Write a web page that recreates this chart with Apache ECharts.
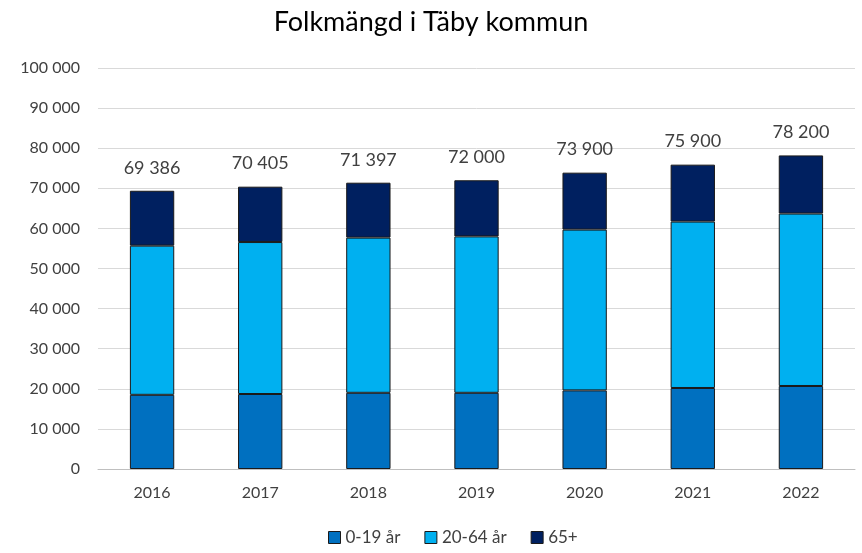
<!DOCTYPE html>
<html>
<head>
<meta charset="utf-8">
<script src="https://cdn.jsdelivr.net/npm/echarts@6/dist/echarts.min.js"></script>
<style>
    html, body { margin: 0; padding: 0; background: #fff; }
    #chart { width: 862px; height: 553px; }
</style>
</head>
<body>
<div id="chart"></div>
<script>
const years = ['2016', '2017', '2018', '2019', '2020', '2021', '2022']
const age0to19 = [18500, 18700, 19000, 19000, 19600, 20200, 20700]
const age20to64 = [37200, 37900, 38700, 39000, 40100, 41500, 43000]
const age65plus = [13686, 13805, 13697, 14000, 14200, 14200, 14500]
const totals = [69386, 70405, 71397, 72000, 73900, 75900, 78200]

const fontFamily = 'Lato, "Open Sans", sans-serif'
const textColor = '#404040'

const spaced = (v) => String(v).replace(/\B(?=(\d{3})+(?!\d))/g, ' ')

const barStyle = (color) => ({
    color: color,
    borderColor: '#1a1a1a',
    borderWidth: 1
})

const chart = echarts.init(document.getElementById('chart'))

chart.setOption({
    animation: false,
    title: {
        text: 'Folkmängd i Täby kommun',
        left: 'center',
        top: 4,
        textStyle: {
            fontFamily: fontFamily,
            fontSize: 27,
            fontWeight: 'normal',
            color: '#000'
        }
    },
    legend: {
        bottom: 2,
        left: 323,
        itemWidth: 12,
        itemHeight: 12,
        itemGap: 24,
        icon: 'rect',
        textStyle: {
            fontFamily: fontFamily,
            fontSize: 17,
            color: textColor
        },
        itemStyle: {
            borderColor: '#1a1a1a',
            borderWidth: 1
        }
    },
    grid: {
        left: 98,
        right: 7,
        top: 68,
        bottom: 84
    },
    xAxis: {
        type: 'category',
        data: years,
        axisTick: { show: false },
        axisLine: { lineStyle: { color: '#bfbfbf' } },
        axisLabel: {
            fontFamily: fontFamily,
            fontSize: 16,
            color: textColor,
            margin: 16
        }
    },
    yAxis: {
        type: 'value',
        min: 0,
        max: 100000,
        interval: 10000,
        axisLine: { show: false },
        axisTick: { show: false },
        axisLabel: {
            fontFamily: fontFamily,
            fontSize: 16,
            color: textColor,
            margin: 18,
            formatter: spaced
        },
        splitLine: { lineStyle: { color: '#d9d9d9' } }
    },
    series: [
        {
            name: '0-19 år',
            type: 'bar',
            stack: 'total',
            barWidth: '41%',
            data: age0to19,
            itemStyle: barStyle('#0070C0')
        },
        {
            name: '20-64 år',
            type: 'bar',
            stack: 'total',
            data: age20to64,
            itemStyle: barStyle('#00B0F0')
        },
        {
            name: '65+',
            type: 'bar',
            stack: 'total',
            data: age65plus,
            itemStyle: barStyle('#002060'),
            label: {
                show: true,
                position: 'top',
                distance: 14,
                fontFamily: fontFamily,
                fontSize: 18,
                color: textColor,
                formatter: (params) => spaced(totals[params.dataIndex])
            }
        }
    ]
})
</script>
</body>
</html>
